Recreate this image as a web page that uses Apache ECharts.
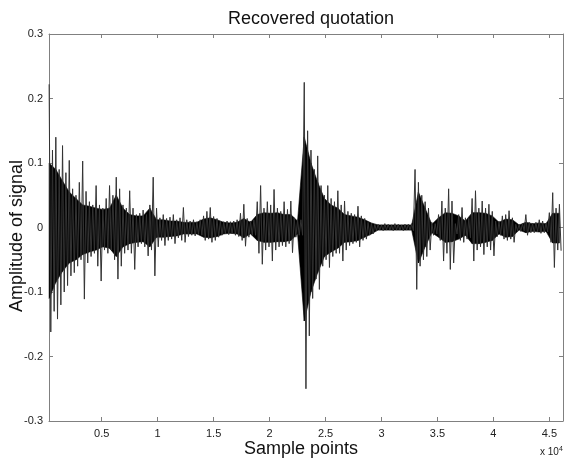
<!DOCTYPE html>
<html>
<head>
<meta charset="utf-8">
<title>Recovered quotation</title>
<script src="https://cdn.jsdelivr.net/npm/echarts@6/dist/echarts.min.js"></script>
<style>
  html, body { margin: 0; padding: 0; background: #fff; }
  #main { width: 566px; height: 462px; }
</style>
</head>
<body>
<div id="main"></div>
<script>
// signal peaks, one max / min pair every 300 samples
var startSample = 300
var sampleStep = 300
var upperPeak = [
  0.222, 0.12, 0.14, 0.09, 0.127, 0.085, 0.104, 0.06, 0.05, 0.07,
  0.103, 0.056, 0.04, 0.035, 0.065, 0.035, 0.03, 0.045, 0.065, 0.05,
  0.078, 0.06, 0.035, 0.03, 0.057, 0.03, 0.02, 0.022, 0.027, 0.02,
  0.035, 0.078, 0.03, 0.015, 0.02, 0.014, 0.016, 0.02, 0.012, 0.015,
  0.031, 0.012, 0.01, 0.012, 0.009, 0.012, 0.018, 0.025, 0.031, 0.017,
  0.014, 0.01, 0.009, 0.01, 0.009, 0.01, 0.012, 0.022, 0.036, 0.014,
  0.01, 0.012, 0.04, 0.065, 0.03, 0.04, 0.035, 0.059, 0.03, 0.025,
  0.04, 0.028, 0.041, 0.015, 0.012, 0.012, 0.225, 0.15, 0.12, 0.09,
  0.111, 0.065, 0.05, 0.065, 0.045, 0.04, 0.057, 0.035, 0.041, 0.025,
  0.022, 0.02, 0.033, 0.018, 0.014, 0.008, 0.007, 0.005, 0.005, 0.004,
  0.006, 0.005, 0.004, 0.006, 0.005, 0.004, 0.005, 0.005, 0.006, 0.09,
  0.07, 0.05, 0.04, 0.03, 0.008, 0.006, 0.02, 0.041, 0.03, 0.06,
  0.041, 0.006, 0.02, 0.031, 0.015, 0.014, 0.045, 0.057, 0.03, 0.041,
  0.03, 0.036, 0.025, 0.01, 0.01, 0.018, 0.02, 0.026, 0.015, 0.005,
  0.005, 0.006, 0.02, 0.008, 0.007, 0.008, 0.012, 0.01, 0.007, 0.023,
  0.054, 0.03, 0.036
]
var lowerPeak = [
  -0.162, -0.13, -0.142, -0.12, -0.10, -0.09, -0.075, -0.07, -0.06, -0.05,
  -0.111, -0.055, -0.045, -0.04, -0.06, -0.083, -0.035, -0.04, -0.035, -0.05,
  -0.08, -0.06, -0.04, -0.035, -0.04, -0.065, -0.03, -0.025, -0.03, -0.044,
  -0.035, -0.075, -0.03, -0.02, -0.028, -0.02, -0.018, -0.025, -0.016, -0.02,
  -0.023, -0.014, -0.012, -0.013, -0.011, -0.012, -0.02, -0.018, -0.023, -0.02,
  -0.015, -0.012, -0.01, -0.011, -0.01, -0.012, -0.014, -0.02, -0.029, -0.015,
  -0.012, -0.012, -0.04, -0.057, -0.035, -0.03, -0.052, -0.035, -0.03, -0.028,
  -0.03, -0.025, -0.039, -0.015, -0.012, -0.012, -0.25, -0.168, -0.11, -0.08,
  -0.096, -0.06, -0.05, -0.062, -0.045, -0.04, -0.04, -0.052, -0.035, -0.028,
  -0.025, -0.023, -0.03, -0.02, -0.018, -0.012, -0.01, -0.005, -0.004, -0.005,
  -0.004, -0.004, -0.005, -0.004, -0.004, -0.005, -0.004, -0.004, -0.005, -0.096,
  -0.06, -0.05, -0.045, -0.035, -0.012, -0.01, -0.02, -0.052, -0.04, -0.065,
  -0.055, -0.01, -0.02, -0.023, -0.018, -0.016, -0.052, -0.035, -0.03, -0.042,
  -0.03, -0.035, -0.044, -0.014, -0.012, -0.018, -0.02, -0.018, -0.023, -0.005,
  -0.006, -0.005, -0.012, -0.008, -0.008, -0.007, -0.009, -0.008, -0.007, -0.023,
  -0.062, -0.035, -0.036
]
// dense black body of the waveform, every 600 samples
var coreStep = 600
var coreUpper = [
  0.1, 0.09, 0.072, 0.055, 0.045, 0.035, 0.033, 0.03, 0.028, 0.03,
  0.05, 0.03, 0.02, 0.018, 0.018, 0.03, 0.012, 0.012, 0.01, 0.01,
  0.008, 0.008, 0.008, 0.013, 0.015, 0.012, 0.008, 0.007, 0.008, 0.014,
  0.008, 0.02, 0.023, 0.022, 0.023, 0.02, 0.02, 0.01, 0.14, 0.1,
  0.07, 0.045, 0.035, 0.03, 0.02, 0.018, 0.016, 0.012, 0.007, 0.004,
  0.004, 0.004, 0.004, 0.004, 0.004, 0.055, 0.03, 0.005, 0.015, 0.023,
  0.022, 0.018, 0.01, 0.023, 0.023, 0.022, 0.018, 0.008, 0.013, 0.012,
  0.004, 0.008, 0.006, 0.007, 0.006, 0.022, 0.022
]
var coreLower = [
  -0.11, -0.085, -0.068, -0.055, -0.05, -0.042, -0.038, -0.035, -0.03, -0.032,
  -0.045, -0.03, -0.025, -0.023, -0.022, -0.03, -0.015, -0.015, -0.014, -0.013,
  -0.01, -0.01, -0.01, -0.015, -0.016, -0.014, -0.01, -0.009, -0.01, -0.016,
  -0.01, -0.02, -0.023, -0.023, -0.022, -0.022, -0.02, -0.01, -0.145, -0.1,
  -0.07, -0.045, -0.038, -0.032, -0.023, -0.022, -0.02, -0.015, -0.01, -0.004,
  -0.004, -0.004, -0.004, -0.004, -0.004, -0.055, -0.03, -0.008, -0.015, -0.023,
  -0.022, -0.018, -0.012, -0.025, -0.025, -0.023, -0.02, -0.01, -0.015, -0.014,
  -0.004, -0.008, -0.006, -0.007, -0.006, -0.024, -0.024
]
var xTicks = [5000, 10000, 15000, 20000, 25000, 30000, 35000, 40000, 45000]
var xMin = 290
var xMax = 46220

// zigzag max -> min -> max for the thin spikes
var wave = []
upperPeak.forEach(function (v, i) {
  var s = startSample + i * sampleStep
  wave.push([s, v])
  wave.push([s + sampleStep / 2, lowerPeak[i]])
})
// core band pieces: [x0, low0, up0, x1, low1, up1]
var coreBand = []
for (var i = 0; i < coreUpper.length - 1; i++) {
  coreBand.push([
    startSample + i * coreStep, coreLower[i], coreUpper[i],
    startSample + (i + 1) * coreStep, coreLower[i + 1], coreUpper[i + 1]
  ])
}

function renderCore (params, api) {
  var p1 = api.coord([api.value(0), api.value(1)])
  var p2 = api.coord([api.value(0), api.value(2)])
  var p3 = api.coord([api.value(3), api.value(5)])
  var p4 = api.coord([api.value(3), api.value(4)])
  return {
    type: 'polygon',
    shape: { points: [p1, p2, p3, p4] },
    style: { fill: '#000', stroke: '#000', lineWidth: 0.6 }
  }
}

var font = 'Liberation Sans, Arial, sans-serif'
var boxColor = '#808080'

function boxAxis (pos) {
  return {
    type: 'value',
    position: pos,
    min: xMin,
    max: xMax,
    splitLine: { show: false },
    axisLine: { onZero: false, lineStyle: { color: boxColor, width: 1 } },
    axisTick: { inside: true, length: 4, customValues: xTicks, lineStyle: { color: boxColor } },
    axisLabel: { show: false }
  }
}

var chart = echarts.init(document.getElementById('main'))
var bottomAxis = boxAxis('bottom')
bottomAxis.axisLabel = {
  customValues: xTicks,
  margin: 7,
  fontFamily: font,
  fontSize: 11,
  color: '#222',
  formatter: function (v) { return String(v / 10000) }
}

chart.setOption({
  animation: false,
  backgroundColor: '#fff',
  title: {
    text: 'Recovered quotation',
    left: 306,
    top: 5,
    textAlign: 'center',
    textStyle: { fontFamily: font, fontSize: 18, fontWeight: 'normal', color: '#111' }
  },
  grid: { left: 49, right: 3, top: 34, bottom: 41 },
  xAxis: [bottomAxis, boxAxis('top')],
  yAxis: [
    {
      type: 'value',
      min: -0.3,
      max: 0.3,
      interval: 0.1,
      splitLine: { show: false },
      axisLine: { show: true, onZero: false, lineStyle: { color: boxColor, width: 1 } },
      axisTick: { show: true, inside: true, length: 4, lineStyle: { color: boxColor } },
      axisLabel: {
        margin: 6,
        fontFamily: font,
        fontSize: 11,
        color: '#222',
        formatter: function (v) { return String(+v.toFixed(1)) }
      }
    },
    {
      type: 'value',
      position: 'right',
      min: -0.3,
      max: 0.3,
      interval: 0.1,
      splitLine: { show: false },
      axisLine: { show: true, onZero: false, lineStyle: { color: boxColor, width: 1 } },
      axisTick: { show: true, inside: true, length: 4, lineStyle: { color: boxColor } },
      axisLabel: { show: false }
    }
  ],
  graphic: [
    {
      type: 'text',
      x: 17,
      y: 236,
      rotation: Math.PI / 2,
      style: {
        text: 'Amplitude of signal',
        fontFamily: font,
        fontSize: 18,
        fill: '#111',
        align: 'center',
        verticalAlign: 'middle'
      }
    },
    {
      type: 'text',
      x: 301,
      y: 449,
      style: {
        text: 'Sample points',
        fontFamily: font,
        fontSize: 18,
        fill: '#111',
        align: 'center',
        verticalAlign: 'middle'
      }
    },
    {
      type: 'text',
      x: 540,
      y: 452.5,
      style: { text: 'x 10', fontFamily: font, fontSize: 10, fill: '#222', verticalAlign: 'middle' }
    },
    {
      type: 'text',
      x: 559,
      y: 449,
      style: { text: '4', fontFamily: font, fontSize: 7, fill: '#222', verticalAlign: 'middle' }
    }
  ],
  series: [
    {
      name: 'core',
      type: 'custom',
      renderItem: renderCore,
      data: coreBand,
      encode: { x: [0, 3], y: [1, 2, 4, 5] },
      z: 1
    },
    {
      name: 'signal',
      type: 'line',
      data: wave,
      showSymbol: false,
      symbol: 'none',
      sampling: null,
      lineStyle: { color: '#333', width: 1 },
      z: 2
    }
  ]
})
</script>
</body>
</html>
